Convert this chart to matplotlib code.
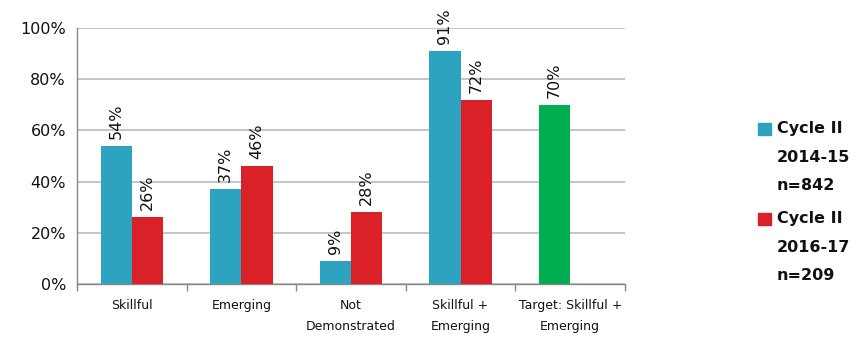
import matplotlib
matplotlib.use("Agg")
import matplotlib.pyplot as plt
import numpy as np
from matplotlib.patches import Rectangle

categories = ["Skillful", "Emerging", "Not\nDemonstrated", "Skillful +\nEmerging", "Target: Skillful +\nEmerging"]
series1_name = ["Cycle II", "2014-15", "n=842"]
series2_name = ["Cycle II", "2016-17", "n=209"]
series1 = [54, 37, 9, 91, 70]
series2 = [26, 46, 28, 72, None]
labels1 = ["54%", "37%", "9%", "91%", "70%"]
labels2 = ["26%", "46%", "28%", "72%", ""]

c_teal = "#2EA3C0"
c_red = "#DA2128"
c_green = "#00AD50"
colors1 = [c_teal, c_teal, c_teal, c_teal, c_green]

fig = plt.figure(figsize=(8.62, 3.37), dpi=100)
ax = fig.add_axes([77/862, 1-284/337, (625-77)/862, (284-28)/337])

x = np.arange(len(categories))
w = 0.285
for i in range(len(categories)):
    ax.bar(x[i] - w/2, series1[i], width=w, color=colors1[i], zorder=3)
    ax.text(x[i] - w/2, series1[i] + 2.8, labels1[i], rotation=90, ha="center", va="bottom", fontsize=11.5, color="#111111")
    if series2[i] is not None:
        ax.bar(x[i] + w/2, series2[i], width=w, color=c_red, zorder=3)
        ax.text(x[i] + w/2, series2[i] + 2.8, labels2[i], rotation=90, ha="center", va="bottom", fontsize=11.5, color="#111111")

ax.set_xlim(-0.5, len(categories) - 0.5)
ax.set_ylim(0, 100)
ax.set_yticks(range(0, 101, 20))
ax.set_yticklabels([f"{v}%" for v in range(0, 101, 20)], fontsize=11.5, color="#111111")
ax.yaxis.grid(True, color="#BBBBBB", linewidth=1.2, zorder=0)
ax.set_axisbelow(True)
ax.tick_params(axis="y", length=0, pad=8)

ax.set_xticks(x)
ax.set_xticklabels(categories, fontsize=9, color="#111111", linespacing=1.75)
ax.tick_params(axis="x", length=0, pad=11)
ax.set_xticks(np.arange(-0.5, len(categories), 1.0), minor=True)
ax.tick_params(axis="x", which="minor", length=5, color="#888888", width=1)

for s in ["top", "right"]:
    ax.spines[s].set_visible(False)
ax.spines["left"].set_color("#888888")
ax.spines["bottom"].set_color("#888888")
ax.spines["left"].set_linewidth(1)
ax.spines["bottom"].set_linewidth(1)

# legend drawn manually
def legend_entry(y_top, color, lines):
    fig.patches.append(Rectangle((758/862, 1-(y_top+6)/337), 13/862, 12/337,
                                 transform=fig.transFigure, color=color))
    for k, t in enumerate(lines):
        fig.text(777/862, 1-(y_top + 28*k)/337, t, fontsize=11.5, fontweight="bold",
                 va="center", ha="left", color="#111111")

legend_entry(129, c_teal, series1_name)
legend_entry(219, c_red, series2_name)

fig.savefig("out.png", dpi=100)
